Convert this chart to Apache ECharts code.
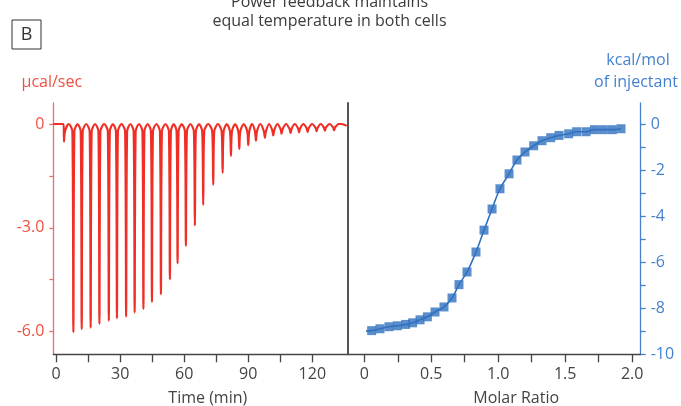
<!DOCTYPE html>
<html><head><meta charset="utf-8">
<script src="https://cdn.jsdelivr.net/npm/echarts@6/dist/echarts.min.js"></script>
<style>html,body{margin:0;padding:0;background:#fff}#c{width:681px;height:406px}</style>
</head><body><div id="c"></div>
<script>
const FONT = '"Open Sans", sans-serif';

// ---- Left panel: raw thermogram (µcal/sec vs time) ----
const injTime  = [3.7, 8.1, 12.0, 16.2, 20.3, 24.7, 28.5, 32.8, 36.8, 40.9, 44.9, 49.1, 53.3, 56.9, 60.8, 65.0,
                  68.9, 73.6, 78.0, 81.9, 85.8, 90.0, 93.6, 97.8, 101.7, 105.6, 109.8, 113.8, 117.8, 122.0, 125.9, 130.2];
const injDepth = [-0.51, -6.02, -5.93, -5.89, -5.78, -5.69, -5.62, -5.57, -5.45, -5.35, -5.15, -4.92, -4.49, -4.03, -3.52, -2.94,
                  -2.34, -1.76, -1.41, -0.92, -0.72, -0.61, -0.48, -0.40, -0.33, -0.28, -0.26, -0.24, -0.23, -0.21, -0.19, -0.18];
const baseStart = [[-1.3, 0], [3.55, 0]];
const baseEnd   = [[133.6, 0], [136.1, -0.05]];
const timeTicks  = [0, 15, 30, 45, 60, 75, 90, 105, 120];
const timeLabels = [0, 30, 60, 90, 120];
const powerTicks  = [0, -1.5, -3, -4.5, -6];
const powerLabels = [0, -3, -6];

// ---- Right panel: integrated heats (kcal/mol vs molar ratio) ----
const molarRatio = [0.055, 0.117, 0.184, 0.247, 0.309, 0.361, 0.416, 0.471, 0.528, 0.595, 0.655, 0.707, 0.767, 0.834, 0.894, 0.954,
                    1.013, 1.081, 1.140, 1.200, 1.265, 1.327, 1.392, 1.454, 1.526, 1.586, 1.656, 1.718, 1.785, 1.852, 1.917];
const enthalpy   = [-8.97, -8.89, -8.80, -8.76, -8.70, -8.63, -8.50, -8.37, -8.16, -7.94, -7.55, -6.97, -6.42, -5.55, -4.60, -3.68,
                    -2.80, -2.15, -1.55, -1.20, -0.93, -0.71, -0.58, -0.48, -0.41, -0.32, -0.32, -0.23, -0.23, -0.23, -0.19];
const fitStart = [0.013, -8.99];
const ratioTicks  = [0, 0.25, 0.5, 0.75, 1.0, 1.25, 1.5, 1.75, 2.0];
const ratioLabels = [0, 0.5, 1.0, 1.5, 2.0];
const heatTicks  = [0, -1, -2, -3, -4, -5, -6, -7, -8, -9, -10];
const heatLabels = [0, -2, -4, -6, -8, -10];

// thermogram vertices: narrow spike bottoms, steep shoulders, rounded return to baseline between injections
const SH_DX = 0.45, SH_FRAC = 0.55, SH_MAX = 0.4;
const trace = baseStart.slice();
for (let i = 0; i < injTime.length; i++) {
  const t = injTime[i], d = injDepth[i];
  const sh = Math.max(d, -SH_MAX) * SH_FRAC;
  if (i > 0) trace.push([t - SH_DX, sh]);
  trace.push([t, d]);
  trace.push([t + SH_DX, sh]);
  const next = i < injTime.length - 1 ? injTime[i + 1] : t + 4.3;
  trace.push([(t + next) / 2, 0]);
}
baseEnd.forEach(p => trace.push(p));

const points = molarRatio.map((x, i) => [x, enthalpy[i]]);
const fit = [fitStart].concat(points);

const RED = '#ef2e26', RED_T = '#f0503f', RED_AX = '#f26b6b';
const BLUE = '#3170bf', BLUE_T = '#4482d0', DARK = '#444';

const fmt1 = v => (v === 0 ? '0' : v.toFixed(1));

const chart = echarts.init(document.getElementById('c'), null, {renderer: 'canvas'});
chart.setOption({
  animation: false,
  backgroundColor: '#fff',
  grid: [
    {left: 53.3, top: 103, width: 293.4, height: 251.3},
    {left: 347.3, top: 103, width: 293.4, height: 251.3}
  ],
  xAxis: [
    {type: 'value', gridIndex: 0, min: -1.3, max: 136.1,
     axisLine: {onZero: false, lineStyle: {color: DARK, width: 1.3}},
     axisTick: {customValues: timeTicks, length: 8, lineStyle: {color: DARK, width: 1.3}},
     axisLabel: {customValues: timeLabels, color: DARK, fontSize: 16, fontFamily: FONT, margin: 12},
     splitLine: {show: false}},
    {type: 'value', gridIndex: 1, min: -0.127, max: 2.064,
     axisLine: {onZero: false, lineStyle: {color: DARK, width: 1.3}},
     axisTick: {customValues: ratioTicks, length: 8, lineStyle: {color: DARK, width: 1.3}},
     axisLabel: {customValues: ratioLabels, formatter: fmt1, color: DARK, fontSize: 16, fontFamily: FONT, margin: 12},
     splitLine: {show: false}}
  ],
  yAxis: [
    {type: 'value', gridIndex: 0, position: 'left', min: -6.656, max: 0.607,
     axisLine: {show: true, onZero: false, lineStyle: {color: RED_AX, width: 1.3}},
     axisTick: {show: true, customValues: powerTicks, length: 4, lineStyle: {color: RED_AX, width: 1.3}},
     axisLabel: {customValues: powerLabels, formatter: fmt1, color: RED_T, fontSize: 16, fontFamily: FONT, margin: 9},
     splitLine: {show: false}},
    {type: 'value', gridIndex: 1, position: 'right', min: -10, max: 0.93,
     axisLine: {show: true, onZero: false, lineStyle: {color: BLUE_T, width: 1.3}},
     axisTick: {show: true, customValues: heatTicks, length: 5, lineStyle: {color: BLUE_T, width: 1.3}},
     axisLabel: {customValues: heatLabels, color: BLUE_T, fontSize: 16, fontFamily: FONT, margin: 10},
     splitLine: {show: false}},
    {type: 'value', gridIndex: 1, position: 'left', min: -10, max: 0.93,
     axisLine: {show: true, onZero: false, lineStyle: {color: '#555', width: 2}},
     axisTick: {show: false}, axisLabel: {show: false}, splitLine: {show: false}}
  ],
  series: [
    {type: 'line', xAxisIndex: 0, yAxisIndex: 0, data: trace, symbol: 'none', smooth: 0.3,
     lineStyle: {color: RED, width: 2.2}},
    {type: 'line', xAxisIndex: 1, yAxisIndex: 1, data: fit, symbol: 'none', smooth: 0.4,
     lineStyle: {color: BLUE, width: 1.6}, z: 2},
    {type: 'scatter', xAxisIndex: 1, yAxisIndex: 1, data: points, symbol: 'rect', symbolSize: 9,
     itemStyle: {color: BLUE}, z: 3}
  ],
  graphic: [
    {type: 'text', x: 329.5, y: 2.3, style: {text: 'Power feedback maintains', fill: '#3c3c3c', font: '16px ' + FONT, align: 'center', verticalAlign: 'middle'}},
    {type: 'text', x: 329.5, y: 21.7, style: {text: 'equal temperature in both cells', fill: '#3c3c3c', font: '16px ' + FONT, align: 'center', verticalAlign: 'middle'}},
    {type: 'rect', shape: {x: 12, y: 20, width: 29, height: 29}, style: {fill: 'none', stroke: '#333', lineWidth: 1}},
    {type: 'text', x: 26.5, y: 35, style: {text: 'B', fill: '#333', font: '18px ' + FONT, align: 'center', verticalAlign: 'middle'}},
    {type: 'text', x: 51.8, y: 82, style: {text: 'µcal/sec', fill: RED_T, font: '16px ' + FONT, align: 'center', verticalAlign: 'middle'}},
    {type: 'text', x: 638, y: 60, style: {text: 'kcal/mol', fill: BLUE_T, font: '16px ' + FONT, align: 'center', verticalAlign: 'middle'}},
    {type: 'text', x: 636, y: 82, style: {text: 'of injectant', fill: BLUE_T, font: '16px ' + FONT, align: 'center', verticalAlign: 'middle'}},
    {type: 'text', x: 207.8, y: 398, style: {text: 'Time (min)', fill: DARK, font: '16px ' + FONT, align: 'center', verticalAlign: 'middle'}},
    {type: 'text', x: 516.2, y: 398, style: {text: 'Molar Ratio', fill: DARK, font: '16px ' + FONT, align: 'center', verticalAlign: 'middle'}}
  ]
});
</script></body></html>
